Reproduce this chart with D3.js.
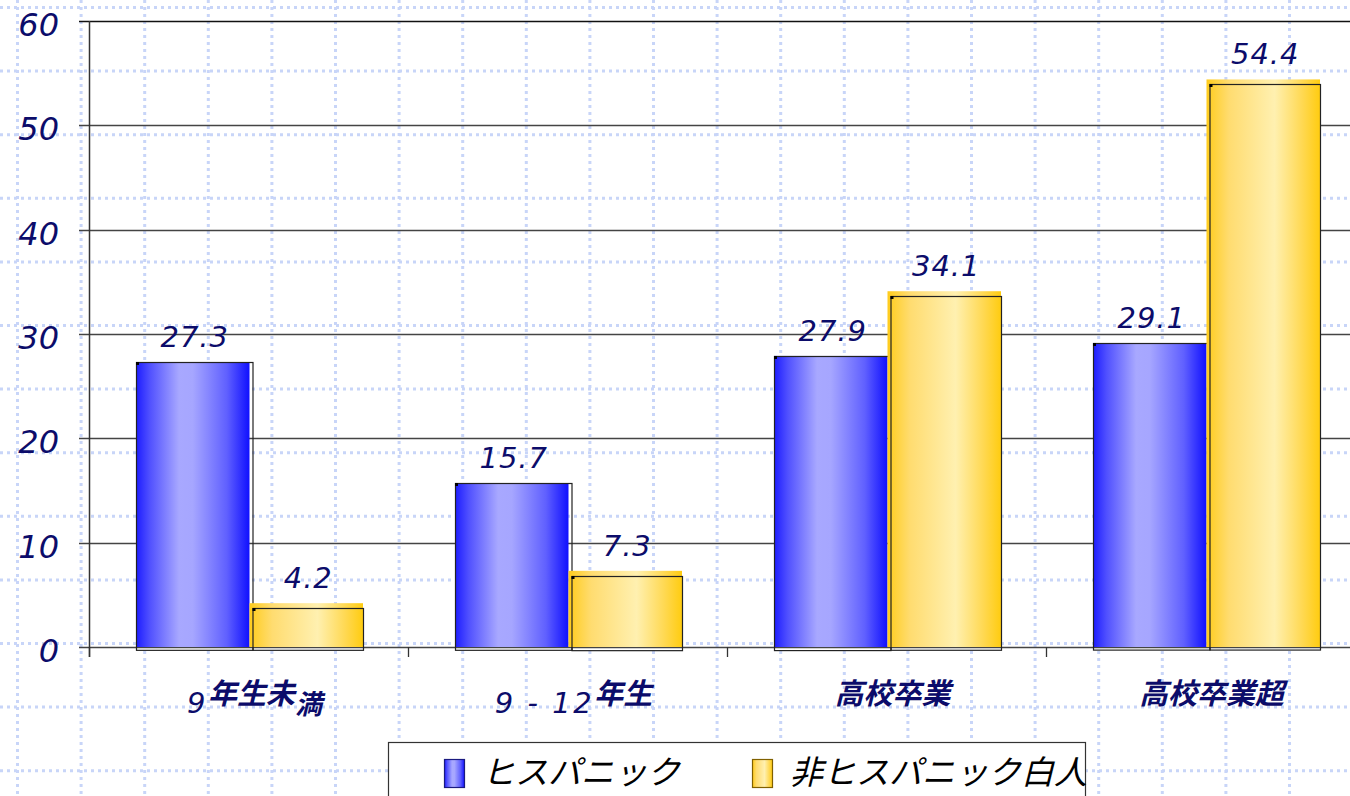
<!DOCTYPE html>
<html>
<head>
<meta charset="utf-8">
<script src="https://cdn.jsdelivr.net/npm/d3@7"></script>
<style>
  body { margin: 0; background: #fff; }
  svg { display: block; }
</style>
</head>
<body>
<svg width="1350" height="796"></svg>
<script>
// **** data ****
var categories = ["9年生未満", "9 - 12年生", "高校卒業", "高校卒業超"];
var seriesNames = ["ヒスパニック", "非ヒスパニック白人"];
var hispanic = [27.3, 15.7, 27.9, 29.1];
var nonHispanicWhite = [4.2, 7.3, 34.1, 54.4];
var yTicks = [0, 10, 20, 30, 40, 50, 60];

var seriesValues = [hispanic, nonHispanicWhite];
var navy = '#0c0c6a';

var svg = d3.select('svg');
var defs = svg.append('defs');

function addGradient(id, stops) {
    var g = defs.append('linearGradient').attr('id', id)
        .attr('x1', '0%').attr('x2', '100%').attr('y1', '0%').attr('y2', '0%');
    stops.forEach(function(s) {
        g.append('stop').attr('offset', s[0]).attr('stop-color', s[1]);
    });
}
addGradient('gradBlue', [[0, '#1c1cff'], [0.12, '#5050ff'], [0.38, '#a8a8ff'], [0.5, '#a6a6ff'], [0.8, '#6060ff'], [1, '#1010ff']]);
addGradient('gradYellow', [[0, '#ffcc1c'], [0.2, '#ffdc70'], [0.6, '#fff0b0'], [0.85, '#ffd850'], [1, '#ffcc10']]);
var grads = ['url(#gradBlue)', 'url(#gradYellow)'];

// **** background dotted grid ****
var bg = svg.append('g').attr('class', 'bg-grid');
d3.range(7.5, 796, 63.6).forEach(function(y) {
    bg.append('line').attr('x1', 0).attr('x2', 1350).attr('y1', y).attr('y2', y)
        .attr('stroke', '#c8d5f8').attr('stroke-width', 3).attr('stroke-dasharray', '3,4');
});
d3.range(17.5, 1350, 63.6).forEach(function(x) {
    bg.append('line').attr('x1', x).attr('x2', x).attr('y1', 0).attr('y2', 796)
        .attr('stroke', '#c8d5f8').attr('stroke-width', 3).attr('stroke-dasharray', '3,4');
});

// **** scales ****
var x0 = d3.scaleBand().domain(categories).range([89, 1365]);
var x1 = d3.scaleBand().domain(seriesNames).range([47, 274]);
var y = d3.scaleLinear().domain([0, 60]).range([647, 21]);

// gridlines
svg.append('g').selectAll('line').data(yTicks).enter().append('line')
    .attr('x1', 79).attr('x2', 1350)
    .attr('y1', function(d) { return Math.round(y(d)) + 0.5; })
    .attr('y2', function(d) { return Math.round(y(d)) + 0.5; })
    .attr('stroke', function(d) { return d === 60 ? '#111' : '#444'; })
    .attr('stroke-width', 1.3);

// y axis line
svg.append('line').attr('x1', 89.5).attr('x2', 89.5).attr('y1', y(60)).attr('y2', 657)
    .attr('stroke', '#333').attr('stroke-width', 1.5);

// x axis ticks
svg.append('g').selectAll('line').data(categories).enter().append('line')
    .attr('x1', function(d) { return Math.round(x0(d)) + 0.5; })
    .attr('x2', function(d) { return Math.round(x0(d)) + 0.5; })
    .attr('y1', y(0)).attr('y2', 657)
    .attr('stroke', '#333').attr('stroke-width', 1.3);

// y tick labels
svg.append('g').selectAll('text').data(yTicks).enter().append('text')
    .attr('x', 59).attr('y', function(d) { return y(d) + 15; })
    .attr('text-anchor', 'end')
    .style('font-family', '"DejaVu Sans", sans-serif')
    .style('font-style', 'italic').style('font-size', '32px')
    .attr('fill', navy)
    .text(function(d) { return d; });

// **** bars ****
var groups = svg.selectAll('.grp').data(categories).enter().append('g')
    .attr('class', 'grp')
    .attr('transform', function(d) { return 'translate(' + x0(d) + ',0)'; });

seriesNames.forEach(function(s, si) {
    var bw = x1.bandwidth();
    groups.append('rect')
        .attr('x', x1(s)).attr('y', function(d, i) { return y(seriesValues[si][i]); })
        .attr('width', bw)
        .attr('height', function(d, i) { return y(0) - y(seriesValues[si][i]); })
        .attr('fill', grads[si]);
    // offset outline (3D-ish artefact of the original)
    var ox = si === 0 ? 0 : 3, oy = si === 0 ? 0 : 5, ow = si === 0 ? bw + 3 : bw - 3;
    groups.append('rect')
        .attr('x', x1(s) + ox + 0.5)
        .attr('y', function(d, i) { return Math.round(y(seriesValues[si][i])) + oy + 0.5; })
        .attr('width', ow)
        .attr('height', function(d, i) { return y(0) + 3 - y(seriesValues[si][i]) - oy; })
        .attr('fill', 'none').attr('stroke', '#222').attr('stroke-width', 1.2);
    groups.append('rect')
        .attr('x', x1(s) + ox)
        .attr('y', function(d, i) { return Math.round(y(seriesValues[si][i])) + oy; })
        .attr('width', 3).attr('height', 3).attr('fill', '#000');
    // value labels
    groups.append('text')
        .attr('x', x1(s) + bw / 2 + 2)
        .attr('y', function(d, i) { return y(seriesValues[si][i]) - 15; })
        .attr('text-anchor', 'middle')
        .style('font-family', '"DejaVu Sans", sans-serif')
        .style('font-style', 'italic').style('font-size', '29px')
        .style('letter-spacing', '1px')
        .attr('fill', navy)
        .text(function(d, i) { return seriesValues[si][i].toFixed(1); });
});

// **** category labels ****
groups.append('text')
    .attr('x', x0.bandwidth() / 2 + 6).attr('y', 704)
    .attr('text-anchor', 'middle')
    .attr('fill', navy)
    .each(function(d, i) {
        var t = d3.select(this);
        var runs = d.match(/[\x00-\x7f]+|[^\x00-\x7f]+/g);
        var shifted = 0;
        runs.forEach(function(r) {
            if (/^[\x00-\x7f]+$/.test(r)) {
                t.append('tspan').attr('dy', 9 - shifted)
                    .style('font-family', '"DejaVu Sans", sans-serif')
                    .style('font-style', 'italic').style('font-size', '29px')
                    .style('letter-spacing', '2.5px')
                    .text(r);
                shifted = 9;
            } else {
                // the original drops the last glyph of the first label below the line
                var body = (i === 0) ? r.slice(0, -1) : r;
                t.append('tspan').attr('dy', -shifted)
                    .style('font-family', '"Noto Sans CJK JP", sans-serif')
                    .style('font-weight', 'bold').style('font-style', 'italic')
                    .style('font-size', '29px')
                    .text(body);
                shifted = 0;
                if (i === 0) {
                    t.append('tspan').attr('dy', 10)
                        .style('font-family', '"Noto Sans CJK JP", sans-serif')
                        .style('font-weight', 'bold').style('font-style', 'italic')
                        .style('font-size', '27px')
                        .text(r.slice(-1));
                }
            }
        });
    });

// **** legend ****
var legend = svg.append('g');
legend.append('rect').attr('x', 388.5).attr('y', 742.5).attr('width', 697).attr('height', 80)
    .attr('fill', '#fff').attr('stroke', '#333').attr('stroke-width', 1.2);
var legendX = [444, 752];
seriesNames.forEach(function(s, si) {
    legend.append('rect').attr('x', legendX[si] + 0.5).attr('y', 759.5)
        .attr('width', 20).attr('height', 28)
        .attr('fill', grads[si]).attr('stroke', si === 0 ? '#1a1a80' : '#806000').attr('stroke-width', 1.2);
    legend.append('text').attr('x', legendX[si] + 38).attr('y', 784)
        .style('font-family', '"Noto Sans CJK JP", sans-serif')
        .style('font-style', 'italic').style('font-size', '33px')
        .attr('fill', '#000')
        .text(s);
});
</script>
</body>
</html>
